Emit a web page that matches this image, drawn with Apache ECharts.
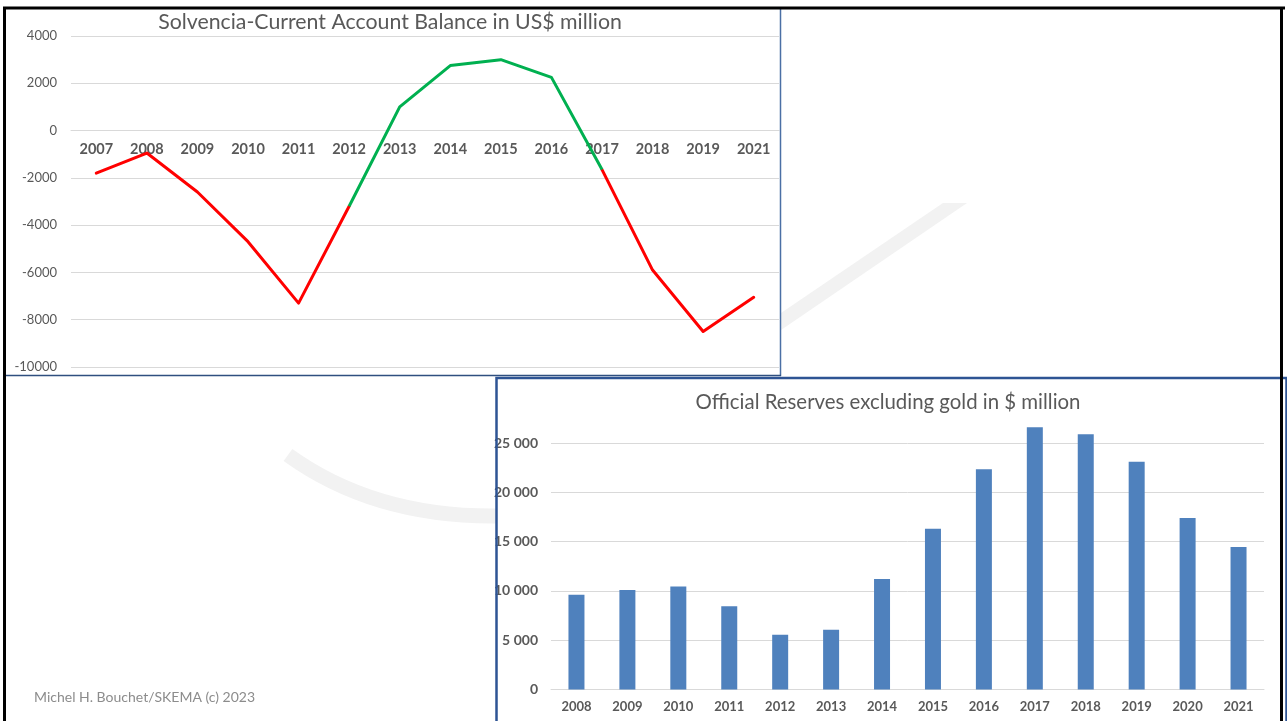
<!DOCTYPE html>
<html>
<head>
<meta charset="utf-8">
<script src="https://cdn.jsdelivr.net/npm/echarts@6/dist/echarts.min.js"></script>
<style>
html,body{margin:0;padding:0;background:#fff;}
#chart{width:1287px;height:721px;}
</style>
</head>
<body>
<div id="chart"></div>
<script>
// ---- Data ----
const cabYears = ['2007','2008','2009','2010','2011','2012','2013','2014','2015','2016','2017','2018','2019','2021'];
const cabValues = [-1800,-950,-2600,-4700,-7300,-3200,1000,2750,3000,2250,-1650,-5900,-8500,-7050];
const surplusStart = 5; // 2012
const surplusEnd = 10;  // 2017

const reserveYears = ['2008','2009','2010','2011','2012','2013','2014','2015','2016','2017','2018','2019','2020','2021'];
const reserveValues = [9600,10100,10450,8450,5550,6050,11200,16300,22350,26600,25900,23100,17400,14450];

const cabTitle = 'Solvencia-Current Account Balance in US$ million';
const resTitle = 'Official Reserves excluding gold in $ million';
const footer = 'Michel H. Bouchet/SKEMA (c) 2023';

// ---- Derived series ----
const redLine = cabValues.map((v,i)=> (i<=surplusStart || i>=surplusEnd) ? v : null);
const greenLine = cabValues.map((v,i)=> (i>=surplusStart && i<=surplusEnd) ? v : null);

const FONT = 'Lato, "Open Sans", sans-serif';
const TXT = '#595959';
const GRID = '#D9D9D9';

const chart = echarts.init(document.getElementById('chart'), null, {renderer:'canvas'});
const spaceFmt = v => String(v).replace(/\B(?=(\d{3})+(?!\d))/g, ' ');

// top grid geometry: value 0 sits 4000/14000 of the way down
const topGridTop = 36, topGridBottomY = 367;
const zeroOffset = -((topGridBottomY - topGridTop) * (10000 / 14000));

chart.setOption({
  backgroundColor: '#ffffff',
  animation: false,
  title: [
    {text: cabTitle, left: 390, top: 12, textAlign: 'center', padding: 0,
     textStyle: {fontFamily: FONT, fontSize: 21.3, fontWeight: 'normal', color: TXT}},
    {text: resTitle, left: 888, top: 392, textAlign: 'center', padding: 0,
     textStyle: {fontFamily: FONT, fontSize: 20.4, fontWeight: 'normal', color: TXT}}
  ],
  grid: [
    {left: 71, right: 508, top: topGridTop, bottom: 721 - topGridBottomY, containLabel: false},
    {left: 551, right: 23, top: 423.3, bottom: 31.5, containLabel: false}
  ],
  xAxis: [
    {type: 'category', gridIndex: 0, data: cabYears, boundaryGap: true,
     position: 'bottom', offset: zeroOffset,
     axisLine: {show: true, onZero: false, lineStyle: {color: GRID, width: 1}},
     axisTick: {show: false},
     axisLabel: {fontFamily: FONT, fontSize: 14.5, fontWeight: 'bold', color: TXT, margin: 11, interval: 0}},
    {type: 'category', gridIndex: 1, data: reserveYears, boundaryGap: true,
     axisLine: {show: true, lineStyle: {color: GRID, width: 1}},
     axisTick: {show: false},
     axisLabel: {fontFamily: FONT, fontSize: 13, fontWeight: 'bold', color: TXT, margin: 11, interval: 0}}
  ],
  yAxis: [
    {type: 'value', gridIndex: 0, min: -10000, max: 4000, interval: 2000,
     axisLine: {show: false}, axisTick: {show: false},
     axisLabel: {fontFamily: FONT, fontSize: 13, color: TXT, margin: 14, formatter: v => String(v)},
     splitLine: {show: true, lineStyle: {color: GRID, width: 1}}},
    {type: 'value', gridIndex: 1, min: 0, max: 27000, interval: 5000,
     axisLine: {show: false}, axisTick: {show: false},
     axisLabel: {fontFamily: FONT, fontSize: 14, fontWeight: 'bold', color: TXT, margin: 13,
                 showMaxLabel: false, formatter: spaceFmt},
     splitLine: {show: true, showMaxLine: false, lineStyle: {color: GRID, width: 1}}}
  ],
  series: [
    {type: 'line', name: 'deficit', xAxisIndex: 0, yAxisIndex: 0, data: redLine,
     symbol: 'none', connectNulls: false, z: 3,
     lineStyle: {color: '#FF0000', width: 3, join: 'round', cap: 'round'}},
    {type: 'line', name: 'surplus', xAxisIndex: 0, yAxisIndex: 0, data: greenLine,
     symbol: 'none', connectNulls: false, z: 4,
     lineStyle: {color: '#00B050', width: 3, join: 'round', cap: 'butt'}},
    {type: 'bar', name: 'reserves', xAxisIndex: 1, yAxisIndex: 1, data: reserveValues,
     barWidth: 16, itemStyle: {color: '#4F81BD'}}
  ],
  graphic: [
    // watermark swoosh
    {type: 'polygon', z: -1, silent: true,
     shape: {points: [[943,203],[967,203],[781,330],[781,313]]},
     style: {fill: '#F2F2F2'}},
    {type: 'bezierCurve', z: -1, silent: true,
     shape: {x1: 288, y1: 455, cpx1: 374, cpy1: 517, x2: 496, y2: 516},
     style: {stroke: '#F2F2F2', lineWidth: 15, fill: null}},
    // footer
    {type: 'text', left: 34, top: 690, silent: true,
     style: {text: footer, fontFamily: FONT, fontSize: 14, fill: '#8C8C8C'}},
    // top chart frame
    {type: 'line', z: 100, silent: true, shape: {x1: 780.5, y1: 9, x2: 780.5, y2: 376},
     style: {stroke: '#4A6FA5', lineWidth: 1.5}},
    {type: 'line', z: 100, silent: true, shape: {x1: 5, y1: 375.5, x2: 781, y2: 375.5},
     style: {stroke: '#2F4F7F', lineWidth: 1.5}},
    // bottom chart frame
    {type: 'rect', z: 100, silent: true, shape: {x: 496.5, y: 378, width: 790, height: 350},
     style: {stroke: '#2E5494', lineWidth: 2.5, fill: null}},
    // outer black frame
    {type: 'line', z: 110, silent: true, shape: {x1: 3, y1: 8, x2: 1285, y2: 8},
     style: {stroke: '#000', lineWidth: 3}},
    {type: 'line', z: 110, silent: true, shape: {x1: 4.5, y1: 7, x2: 4.5, y2: 722},
     style: {stroke: '#000', lineWidth: 3}},
    {type: 'line', z: 110, silent: true, shape: {x1: 1281.5, y1: 7, x2: 1281.5, y2: 722},
     style: {stroke: '#000', lineWidth: 3}}
  ]
});
</script>
</body>
</html>
